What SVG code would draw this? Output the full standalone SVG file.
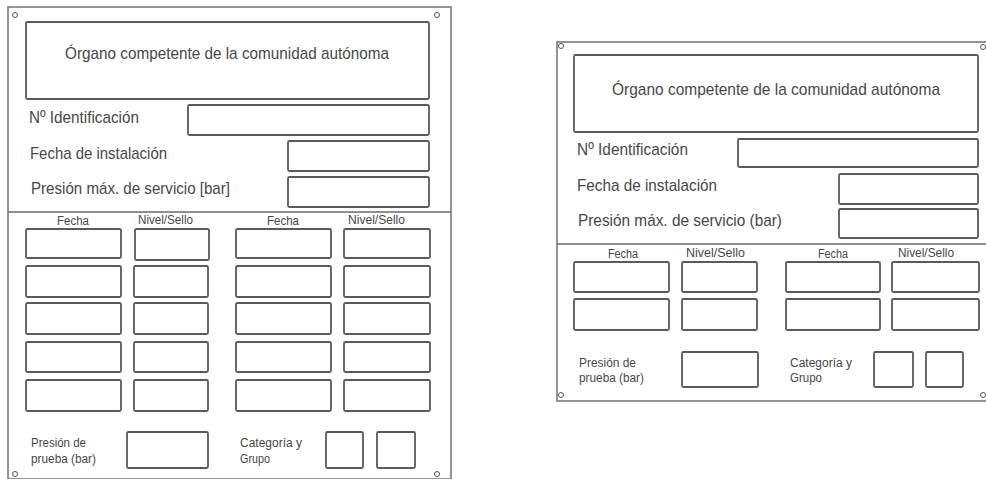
<svg xmlns="http://www.w3.org/2000/svg" width="986" height="479" viewBox="0 0 986 479">
<style>
.bg{fill:#ffffff}
.plate{fill:none;stroke:#7a7a7a;stroke-width:1.6}
.box{fill:none;stroke:#5a5a5a;stroke-width:1.8}
.div{stroke:#6a6a6a;stroke-width:1.6}
.hole{fill:none;stroke:#555;stroke-width:1}
text{font-family:"Liberation Sans",Arial,sans-serif;fill:#484848}
.t{font-size:17px}
.h{font-size:12.5px}
.s{font-size:12.5px}
</style>
<rect class="bg" x="0" y="0" width="986" height="479"/>

<!-- LEFT PLATE -->
<g id="left-plate">
  <rect class="plate" x="8" y="7" width="443" height="472"/>
  <circle class="hole" cx="15" cy="15" r="2.5"/>
  <circle class="hole" cx="437" cy="15" r="2.5"/>
  <circle class="hole" cx="15" cy="474" r="2.5"/>
  <circle class="hole" cx="437" cy="474" r="2.5"/>
  <line class="div" x1="8" y1="212" x2="451" y2="212"/>
</g>
<g id="left-header">
  <rect class="box" x="26" y="22" width="403" height="77" rx="1.5"/>
  <text class="t" x="65" y="59" textLength="324" lengthAdjust="spacingAndGlyphs">Órgano competente de la comunidad autónoma</text>
</g>
<g id="left-id">
  <text class="t" x="29" y="123" textLength="110" lengthAdjust="spacingAndGlyphs">Nº Identificación</text>
  <rect class="box" x="188" y="105" width="241" height="30" rx="1.5"/>
</g>
<g id="left-fecha-inst">
  <text class="t" x="30" y="159" textLength="137" lengthAdjust="spacingAndGlyphs">Fecha de instalación</text>
  <rect class="box" x="288" y="141" width="141" height="30" rx="1.5"/>
</g>
<g id="left-presion-max">
  <text class="t" x="31" y="194" textLength="199" lengthAdjust="spacingAndGlyphs">Presión máx. de servicio [bar]</text>
  <rect class="box" x="288" y="177" width="141" height="30" rx="1.5"/>
</g>
<g id="left-grid">
  <text class="h" x="57" y="225" textLength="32" lengthAdjust="spacingAndGlyphs">Fecha</text>
  <text class="h" x="138" y="224" textLength="55" lengthAdjust="spacingAndGlyphs">Nivel/Sello</text>
  <text class="h" x="267" y="225" textLength="32" lengthAdjust="spacingAndGlyphs">Fecha</text>
  <text class="h" x="348" y="224" textLength="57" lengthAdjust="spacingAndGlyphs">Nivel/Sello</text>
  <rect class="box" x="26" y="229" width="95" height="29" rx="1.5"/>
  <rect class="box" x="135" y="229" width="74" height="31" rx="1.5"/>
  <rect class="box" x="236" y="229" width="95" height="29" rx="1.5"/>
  <rect class="box" x="344" y="229" width="86" height="29" rx="1.5"/>
  <rect class="box" x="26" y="266" width="95" height="31" rx="1.5"/>
  <rect class="box" x="134" y="266" width="74" height="31" rx="1.5"/>
  <rect class="box" x="236" y="266" width="95" height="31" rx="1.5"/>
  <rect class="box" x="344" y="266" width="86" height="31" rx="1.5"/>
  <rect class="box" x="26" y="303" width="95" height="31" rx="1.5"/>
  <rect class="box" x="134" y="303" width="74" height="31" rx="1.5"/>
  <rect class="box" x="236" y="303" width="95" height="31" rx="1.5"/>
  <rect class="box" x="344" y="303" width="86" height="31" rx="1.5"/>
  <rect class="box" x="26" y="342" width="95" height="30" rx="1.5"/>
  <rect class="box" x="134" y="342" width="74" height="30" rx="1.5"/>
  <rect class="box" x="236" y="342" width="95" height="30" rx="1.5"/>
  <rect class="box" x="344" y="342" width="86" height="30" rx="1.5"/>
  <rect class="box" x="26" y="380" width="95" height="31" rx="1.5"/>
  <rect class="box" x="134" y="380" width="74" height="31" rx="1.5"/>
  <rect class="box" x="236" y="380" width="95" height="31" rx="1.5"/>
  <rect class="box" x="344" y="380" width="86" height="31" rx="1.5"/>
</g>
<g id="left-prueba">
  <text class="s" x="31" y="447" textLength="55" lengthAdjust="spacingAndGlyphs">Presión de</text>
  <text class="s" x="31" y="463" textLength="65" lengthAdjust="spacingAndGlyphs">prueba (bar)</text>
  <rect class="box" x="127" y="432" width="81" height="36" rx="1.5"/>
</g>
<g id="left-categoria">
  <text class="s" x="240" y="447" textLength="62" lengthAdjust="spacingAndGlyphs">Categoría y</text>
  <text class="s" x="240" y="463" textLength="30" lengthAdjust="spacingAndGlyphs">Grupo</text>
  <rect class="box" x="326" y="432" width="37" height="36" rx="1.5"/>
  <rect class="box" x="377" y="432" width="38" height="36" rx="1.5"/>
</g>

<!-- RIGHT PLATE -->
<g id="right-plate">
  <rect class="plate" x="557" y="42" width="433" height="359"/>
  <circle class="hole" cx="561" cy="46" r="2.5"/>
  <circle class="hole" cx="983" cy="47" r="2.5"/>
  <circle class="hole" cx="561" cy="395" r="2.5"/>
  <circle class="hole" cx="983" cy="395" r="2.5"/>
  <line class="div" x1="557" y1="244" x2="986" y2="244"/>
</g>
<g id="right-header">
  <rect class="box" x="574" y="55" width="404" height="77" rx="1.5"/>
  <text class="t" x="612" y="95" textLength="328" lengthAdjust="spacingAndGlyphs">Órgano competente de la comunidad autónoma</text>
</g>
<g id="right-id">
  <text class="t" x="577" y="155" textLength="111" lengthAdjust="spacingAndGlyphs">Nº Identificación</text>
  <rect class="box" x="738" y="139" width="240" height="28" rx="1.5"/>
</g>
<g id="right-fecha-inst">
  <text class="t" x="577" y="191" textLength="140" lengthAdjust="spacingAndGlyphs">Fecha de instalación</text>
  <rect class="box" x="839" y="174" width="139" height="30" rx="1.5"/>
</g>
<g id="right-presion-max">
  <text class="t" x="578" y="226" textLength="204" lengthAdjust="spacingAndGlyphs">Presión máx. de servicio (bar)</text>
  <rect class="box" x="839" y="209" width="139" height="29" rx="1.5"/>
</g>
<g id="right-grid">
  <text class="h" x="608" y="258" textLength="30" lengthAdjust="spacingAndGlyphs">Fecha</text>
  <text class="h" x="686" y="257" textLength="59" lengthAdjust="spacingAndGlyphs">Nivel/Sello</text>
  <text class="h" x="818" y="258" textLength="30" lengthAdjust="spacingAndGlyphs">Fecha</text>
  <text class="h" x="898" y="257" textLength="56" lengthAdjust="spacingAndGlyphs">Nivel/Sello</text>
  <rect class="box" x="574" y="262" width="95" height="30" rx="1.5"/>
  <rect class="box" x="682" y="262" width="75" height="30" rx="1.5"/>
  <rect class="box" x="786" y="262" width="94" height="30" rx="1.5"/>
  <rect class="box" x="892" y="262" width="87" height="30" rx="1.5"/>
  <rect class="box" x="574" y="299" width="95" height="31" rx="1.5"/>
  <rect class="box" x="682" y="299" width="75" height="31" rx="1.5"/>
  <rect class="box" x="786" y="299" width="94" height="31" rx="1.5"/>
  <rect class="box" x="892" y="299" width="87" height="31" rx="1.5"/>
</g>
<g id="right-prueba">
  <text class="s" x="579" y="367" textLength="57" lengthAdjust="spacingAndGlyphs">Presión de</text>
  <text class="s" x="579" y="382" textLength="65" lengthAdjust="spacingAndGlyphs">prueba (bar)</text>
  <rect class="box" x="682" y="352" width="76" height="35" rx="1.5"/>
</g>
<g id="right-categoria">
  <text class="s" x="790" y="367" textLength="62" lengthAdjust="spacingAndGlyphs">Categoría y</text>
  <text class="s" x="790" y="382" textLength="32" lengthAdjust="spacingAndGlyphs">Grupo</text>
  <rect class="box" x="874" y="352" width="39" height="35" rx="1.5"/>
  <rect class="box" x="926" y="352" width="37" height="35" rx="1.5"/>
</g>
<g id="connectors"></g>
</svg>
